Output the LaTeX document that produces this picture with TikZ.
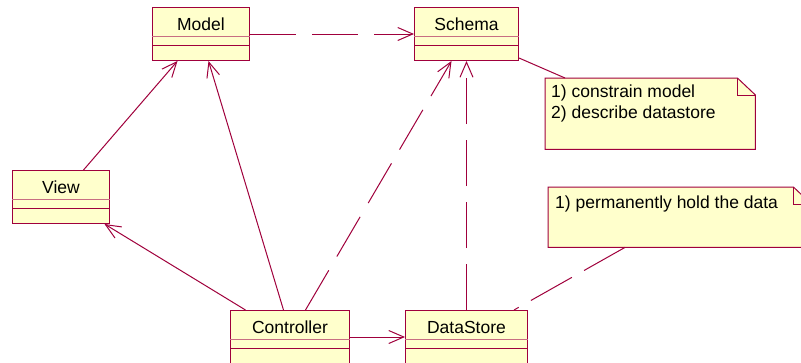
\documentclass[tikz,border=0pt]{standalone}
\usepackage{fontspec}
\setmainfont{Liberation Sans}
\usetikzlibrary{arrows.meta,calc}
\definecolor{umlborder}{RGB}{160,0,60}
\definecolor{umlsep}{RGB}{200,110,130}
\definecolor{umlfill}{RGB}{255,255,204}
\tikzset{
  cls/.style={draw=umlborder, fill=umlfill, line width=1pt, inner sep=0pt, anchor=north west},
  clsname/.style={anchor=base, inner sep=0pt, font=\fontsize{17.5}{21}\selectfont},
  notetext/.style={anchor=base west, inner sep=0pt, font=\fontsize{17.5}{21}\selectfont},
  notebody/.style={inner sep=0pt, anchor=north west},
  noteline/.style={draw=umlborder, fill=umlfill, line width=1pt, line join=miter},
  conn/.style={draw=umlborder, line width=1pt},
  assoc/.style={conn, -{Straight Barb[length=15pt,width=13pt,line width=1pt]}},
  dep/.style={assoc, dash pattern=on 46pt off 16pt},
  dashlink/.style={conn, dash pattern=on 47pt off 14pt},
}
\begin{document}
\begin{tikzpicture}[x=1pt,y=-1pt]
\useasboundingbox (0,0) rectangle (801,362);
\clip (0,0) rectangle (801,362);
\fill[white] (0,0) rectangle (801,362);
% classes
\node[cls, minimum width=97pt, minimum height=53pt] (model) at (152,7) {};
\node[cls, minimum width=104pt, minimum height=53pt] (schema) at (414,7) {};
\node[cls, minimum width=97pt, minimum height=53pt] (view) at (12,170) {};
\node[cls, minimum width=119pt, minimum height=65pt] (controller) at (230,310) {};
\node[cls, minimum width=122pt, minimum height=65pt] (datastore) at (405,310) {};
\foreach \c in {model,schema,view,controller,datastore}{
  \draw[umlsep, line width=1pt] ([yshift=-29pt]\c.north west) -- ([yshift=-29pt]\c.north east);
  \draw[umlborder, line width=1pt] ([yshift=-38.5pt]\c.north west) -- ([yshift=-38.5pt]\c.north east);
}
\node[clsname] (modeln) at ([yshift=-23pt]model.north) {Model};
\node[clsname] (scheman) at ([yshift=-23pt]schema.north) {Schema};
\node[clsname] (viewn) at ([yshift=-23pt]view.north) {View};
\node[clsname] (controllern) at ([yshift=-23pt]controller.north) {Controller};
\node[clsname] (datastoren) at ([yshift=-23pt]datastore.north) {DataStore};
% notes
\node[notebody, minimum width=210pt, minimum height=71pt] (note1) at (545,78) {};
\draw[noteline] (note1.north west) -- ([xshift=-18pt]note1.north east) -- ([yshift=-17pt]note1.north east) -- (note1.south east) -- (note1.south west) -- cycle;
\draw[conn, line join=miter] ([xshift=-18pt]note1.north east) -- ([xshift=-18pt,yshift=-17pt]note1.north east) -- ([yshift=-17pt]note1.north east);
\node[notetext] (note1a) at (551,97) {1) constrain model};
\node[notetext] (note1b) at (551,118) {2) describe datastore};
\node[notebody, minimum width=263pt, minimum height=60pt] (note2) at (548,187) {};
\draw[noteline] (note2.north west) -- ([xshift=-18pt]note2.north east) -- ([yshift=-17pt]note2.north east) -- (note2.south east) -- (note2.south west) -- cycle;
\draw[conn, line join=miter] ([xshift=-18pt]note2.north east) -- ([xshift=-18pt,yshift=-17pt]note2.north east) -- ([yshift=-17pt]note2.north east);
\node[notetext] (note2a) at (555,208) {1) permanently hold the data};
% connectors
\draw[dep] (model.east) -- (schema.west);
\draw[assoc] ([xshift=22.5pt]view.north) -- ([xshift=-23.5pt]model.south);
\draw[assoc] ([xshift=-6.5pt]controller.north) -- ([xshift=7.5pt]model.south);
\draw[assoc] ([xshift=-44.5pt]controller.north) -- ([xshift=43.5pt]view.south);
\draw[dep] ([xshift=15.5pt]controller.north) -- ([xshift=-15pt]schema.south);
\draw[dep] (datastore.north) -- (schema.south);
\draw[assoc] ([yshift=-27pt]controller.north east) -- ([yshift=-27pt]datastore.north west);
\draw[conn] ([yshift=3pt]schema.south east) -- ([xshift=20pt]note1.north west);
\draw[dashlink] ([xshift=77pt]note2.south west) -- ([xshift=-14pt]datastore.north east);
\end{tikzpicture}
\end{document}
